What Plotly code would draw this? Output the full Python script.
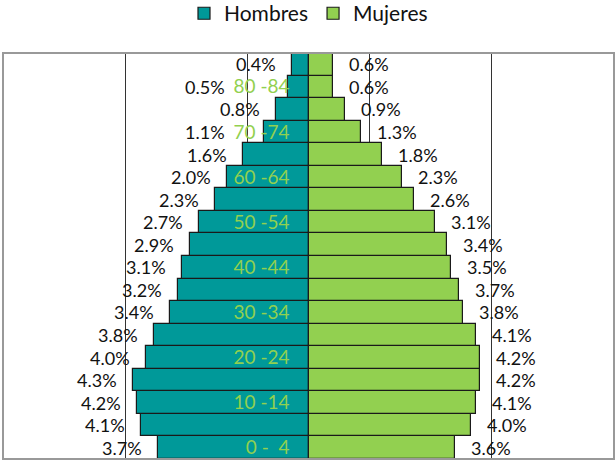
import plotly.graph_objects as go

# Age groups from youngest (bottom) to oldest (top)
age_groups = ["0 - \u00a04", "5 - 9", "10 -14", "15 -19", "20 -24", "25 -29", "30 -34",
              "35 -39", "40 -44", "45 -49", "50 -54", "55 -59", "60 -64", "65 -69",
              "70 -74", "75 -79", "80 -84", "85 +"]
# Share of total population (%)
hombres = [3.7, 4.1, 4.2, 4.3, 4.0, 3.8, 3.4, 3.2, 3.1, 2.9, 2.7, 2.3, 2.0, 1.6, 1.1, 0.8, 0.5, 0.4]
mujeres = [3.6, 4.0, 4.1, 4.2, 4.2, 4.1, 3.8, 3.7, 3.5, 3.4, 3.1, 2.6, 2.3, 1.8, 1.3, 0.9, 0.6, 0.6]
# Only every second age group gets an axis label
labelled_groups = age_groups[::2]

FONT = "Lato"
TEAL = "#009999"
GREEN = "#92D050"
LABEL_SIZE = 18
GAP = 14            # px between a bar's end and its value label
CLEAR_OF_AXIS = 82  # px from the centre line, keeps short-bar labels off the age label

fig = go.Figure()
fig.add_trace(go.Bar(
    y=age_groups, x=[-v for v in hombres], orientation="h", name="Hombres",
    marker=dict(color=TEAL, line=dict(color="#1a1a1a", width=1.2)),
    hoverinfo="skip",
))
fig.add_trace(go.Bar(
    y=age_groups, x=mujeres, orientation="h", name="Mujeres",
    marker=dict(color=GREEN, line=dict(color="#1a1a1a", width=1.2)),
    hoverinfo="skip",
))

# Percentage labels just beyond the end of each bar
annotations = []
for g, v in zip(age_groups, hombres):
    ann = dict(x=-v, y=g, xref="x", yref="y", text=f"{v:.1f}%",
               xanchor="right", xshift=-GAP, showarrow=False,
               font=dict(family=FONT, size=LABEL_SIZE, color="#111111"))
    # short bars in a labelled row: push the value label left of the age label
    if g in labelled_groups and v < 1.5:
        ann.update(x=0, xshift=-CLEAR_OF_AXIS)
    annotations.append(ann)
for g, v in zip(age_groups, mujeres):
    annotations.append(dict(x=v, y=g, xref="x", yref="y", text=f"{v:.1f}%",
                            xanchor="left", xshift=GAP, showarrow=False,
                            font=dict(family=FONT, size=LABEL_SIZE, color="#111111")))

fig.update_layout(
    width=616, height=462,
    margin=dict(l=3, r=2, t=53, b=3, autoexpand=False),
    paper_bgcolor="white", plot_bgcolor="white",
    barmode="overlay", bargap=0,
    font=dict(family=FONT, color="#111111"),
    showlegend=True,
    legend=dict(orientation="h", x=0.5, xanchor="center", y=1.097, yref="paper",
                yanchor="middle", font=dict(family=FONT, size=21, color="#111111"),
                traceorder="normal"),
    xaxis=dict(range=[-7.5, 7.5], tick0=-7.5, dtick=3, showticklabels=False,
               showgrid=True, gridcolor="#333333", gridwidth=1, zeroline=False,
               ticks=""),
    yaxis=dict(type="category", categoryorder="array", categoryarray=age_groups,
               range=[-0.5, len(age_groups) - 0.5], anchor="free", position=0.5,
               tickvals=labelled_groups, ticktext=labelled_groups, ticks="",
               ticklabelstandoff=19, showgrid=False, showline=False, zeroline=False,
               tickfont=dict(family=FONT, size=19, color=GREEN)),
    annotations=annotations,
    shapes=[dict(type="rect", xref="x domain", yref="y domain", x0=0, x1=1, y0=0, y1=1,
                 line=dict(color="#999999", width=2), layer="above")],
)

fig.write_html("out.html")
